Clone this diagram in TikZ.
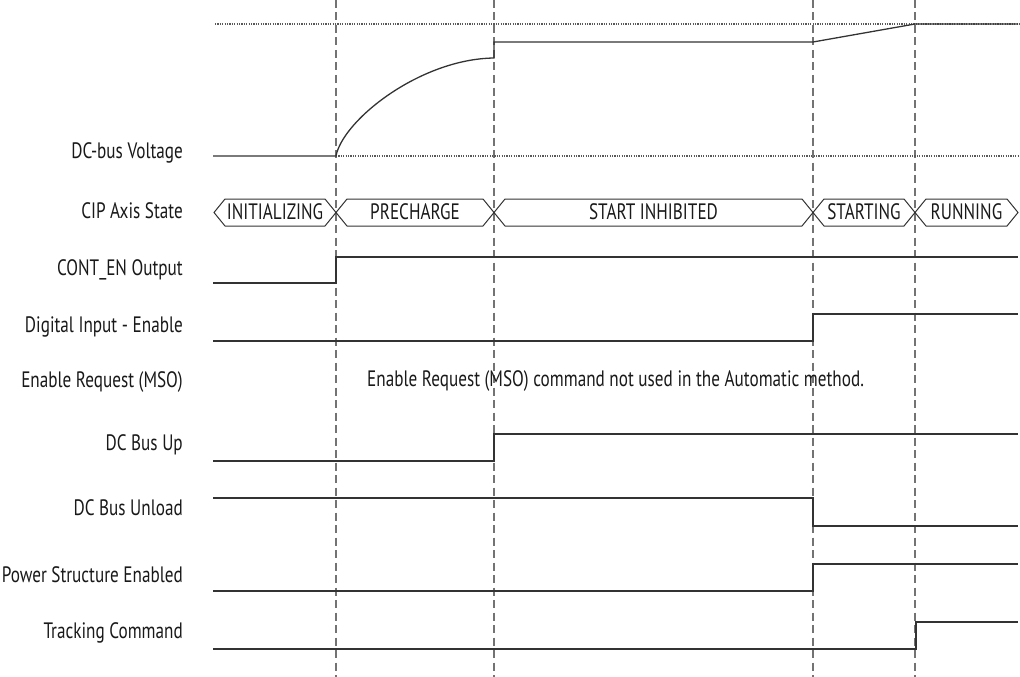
\documentclass[tikz,border=0pt]{standalone}
\usepackage{fontspec}
\setmainfont{PT Sans}[FakeStretch=0.77]
\begin{document}
\begin{tikzpicture}[x=1pt,y=-1pt,
  sig/.style={draw=black!80,line width=1.3pt,line join=miter},
  guide/.style={draw=black!55,line width=1.1pt,dash pattern=on 8pt off 4.5pt},
  level/.style={draw=black!65,line width=1.2pt,dash pattern=on 1.2pt off 1.2pt},
  lbl/.style={font=\fontsize{22.3}{24}\selectfont,inner sep=0pt,text=black!90}]
\useasboundingbox (0,0) rectangle (1020,677);
% vertical guides
\foreach \gx/\gn in {336/ga,494/gb,813/gc,915/gd}{
  \coordinate (\gn top) at (\gx,0);
  \coordinate (\gn bot) at (\gx,677);
  \draw[guide] (\gn top) -- (\gn bot);
}
% labels
\foreach \ly/\lt/\ln in {153/DC-bus Voltage/l1,211/CIP Axis State/l2,270/CONT\_EN Output/l3,
  327/Digital Input - Enable/l4,382/Enable Request (MSO)/l5,445/DC Bus Up/l6,
  508/DC Bus Unload/l7,575/Power Structure Enabled/l8,633/Tracking Command/l9}{
  \node[lbl,anchor=east] (\ln) at (183,\ly) {\lt};
}
% DC bus voltage
\draw[level] (215,24) -- (1020,24);
\draw[level] (336,156) -- (1020,156);
\draw[sig] (213,156) -- (336,156) .. controls (343,120) and (420,59) .. (494,58)
  -- (494,42) -- (813,42) -- (915,24) -- (1018,24);
% CIP axis states
\foreach \xa/\xb/\st/\sn in {214/336/INITIALIZING/s1,336/494/PRECHARGE/s2,494/813/START INHIBITED/s3,
  813/915/STARTING/s4,915/1018/RUNNING/s5}{
  \draw[sig,line width=1pt] (\xa,212.5) -- (\xa+11,199) -- (\xb-11,199) -- (\xb,212.5)
    -- (\xb-11,226) -- (\xa+11,226) -- cycle;
  \node[lbl] (\sn) at ({(\xa+\xb)/2},212) {\st};
}
% CONT_EN
\draw[sig] (213,283) -- (336,283) -- (336,257) -- (1018,257);
% Digital input enable
\draw[sig] (213,341) -- (813,341) -- (813,314) -- (1018,314);
% Enable request note
\node[lbl,anchor=west] (note) at (367,381) {Enable Request (MSO) command not used in the Automatic method.};
% DC Bus Up
\draw[sig] (213,461) -- (494,461) -- (494,434) -- (1018,434);
% DC Bus Unload
\draw[sig] (213,498) -- (813,498) -- (813,526) -- (1018,526);
% Power structure enabled
\draw[sig] (213,591) -- (813,591) -- (813,564) -- (1018,564);
% Tracking command
\draw[sig] (213,649) -- (916,649) -- (916,622) -- (1018,622);
\end{tikzpicture}
\end{document}
